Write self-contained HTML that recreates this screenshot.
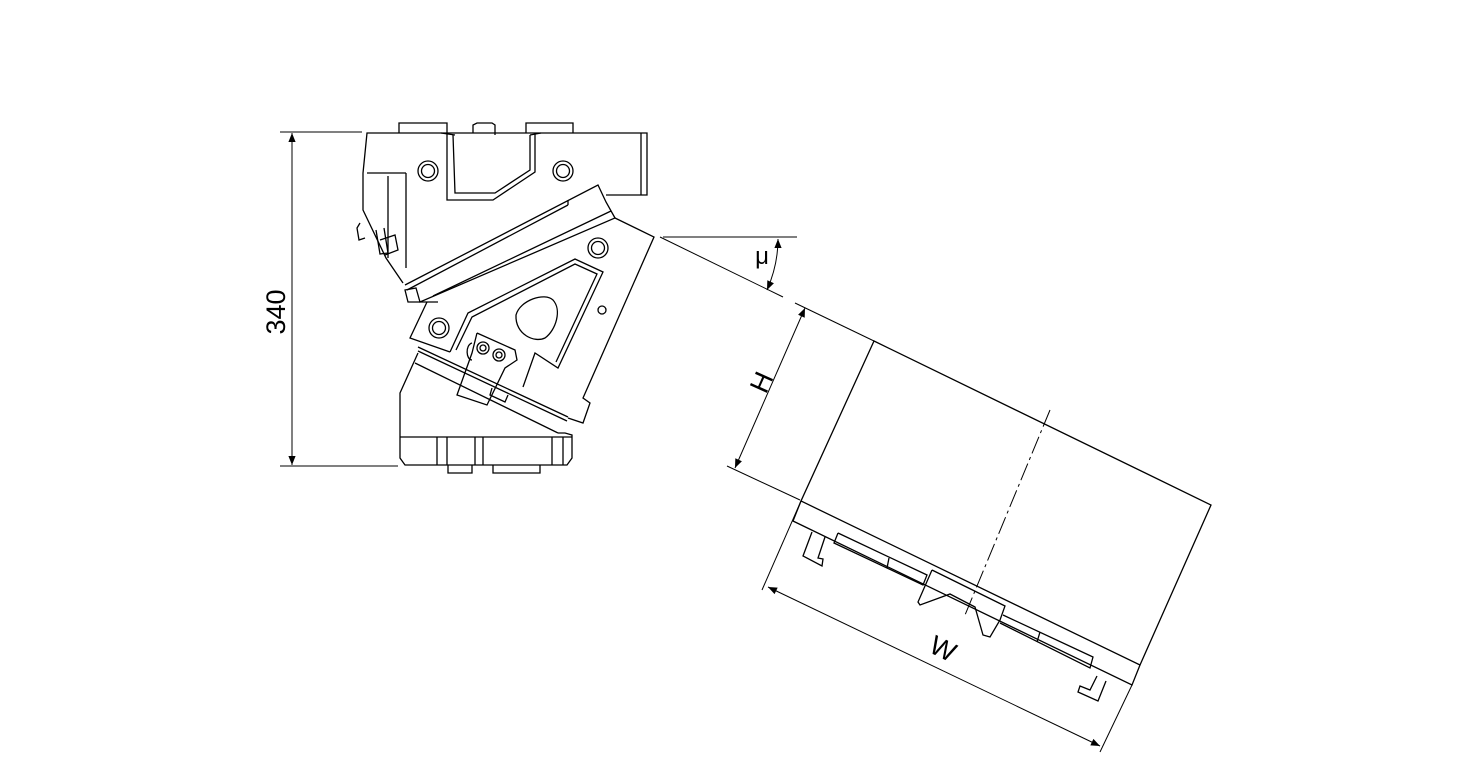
<!DOCTYPE html>
<html><head><style>
html,body{margin:0;padding:0;background:#fff;}
svg{display:block;}
text{font-family:"Liberation Sans",sans-serif;fill:#000;}
</style></head><body>
<svg width="1471" height="772" viewBox="0 0 1471 772" xmlns="http://www.w3.org/2000/svg">
<defs>
<marker id="a" viewBox="0 0 10 10" refX="10" refY="5" markerWidth="18" markerHeight="9" markerUnits="userSpaceOnUse" orient="auto-start-reverse"><path d="M0,1 L10,5 L0,9 z" fill="#000"/></marker>
</defs>
<g fill="none" stroke="#000" stroke-width="1.3" stroke-linejoin="miter">
<line x1="280" y1="132" x2="362" y2="132" stroke-width="1"/>
<line x1="280" y1="466" x2="398" y2="466" stroke-width="1"/>
<line x1="292" y1="133" x2="292" y2="465" stroke-width="1" marker-start="url(#a)" marker-end="url(#a)"/>

<polyline points="399,133 399,123 447,123 447,133"/>
<polyline points="473,133 473,125 477,123 492,123 495,125 495,135"/>
<polyline points="526,133 526,123 573,123 573,133"/>
<polyline points="403,283 386,258 363,210 363,173 367,133 647,133 647,195 606,195"/>
<line x1="641" y1="133" x2="641" y2="195"/>
<line x1="367" y1="173" x2="406" y2="173"/>
<line x1="406" y1="173" x2="406" y2="268"/>
<line x1="388" y1="176" x2="388" y2="258"/>
<polyline points="447,133 447,200 493,200 535,172 535,133"/>
<polyline points="453,135 455,193 495,193 530,170 530,135"/>
<line x1="441" y1="133" x2="455" y2="135"/>
<line x1="541" y1="133" x2="530" y2="135"/>
<circle cx="428" cy="171" r="10"/><circle cx="428" cy="171" r="6.5"/>
<circle cx="563" cy="171" r="10"/><circle cx="563" cy="171" r="6.5"/>
<polyline points="360,223 357,228 359,240 365,238"/>
<polyline points="376,230 380,254 388,253 384,228"/>
<polyline points="380,240 395,235 398,250 385,255"/>
<polyline points="405,285 598,185 606,202 615,218 420,302 416,288 405,290 408,302 420,302"/>
<line x1="568" y1="200" x2="568" y2="205"/>
<line x1="407" y1="290" x2="568" y2="205"/>
<line x1="433" y1="296" x2="611" y2="211"/>
<polyline points="615,218 654,237 583,398 590,403 583,423 568,418"/>
<polyline points="427,302 410,338 450,352"/>
<line x1="420" y1="302" x2="438" y2="302"/>
<circle cx="598" cy="248" r="10"/><circle cx="598" cy="248" r="6.5"/>
<circle cx="439" cy="328" r="10"/><circle cx="439" cy="328" r="6.5"/>
<circle cx="602" cy="310" r="4"/>
<polyline points="450,352 468,313 575,259 603,272 558,368 535,353 523,387"/>
<polyline points="456,350 472,317 575,264 597,274 556,362"/>
<path d="M516,315 C520,300 545,292 553,300 C562,310 556,330 545,338 C535,343 515,335 516,315 z"/>
<polyline points="477,333 515,350 517,360 505,368 487,405 457,395 472,353 477,333"/>
<path d="M472,343 C465,345 466,360 472,360"/>
<circle cx="483" cy="348" r="6"/><circle cx="483" cy="348" r="3"/>
<circle cx="499" cy="355" r="6"/><circle cx="499" cy="355" r="3"/>
<line x1="418" y1="347" x2="568" y2="417"/>
<line x1="418" y1="351" x2="567" y2="421"/>
<line x1="415" y1="363" x2="558" y2="433"/>
<polyline points="492,388 490,395 505,402 508,395"/>
<polyline points="418,353 400,393 400,458 405,465 567,465 572,458 572,435 565,433 558,433"/>
<line x1="400" y1="437" x2="572" y2="437"/>
<line x1="437" y1="437" x2="437" y2="465"/>
<line x1="447" y1="437" x2="447" y2="465"/>
<line x1="475" y1="437" x2="475" y2="465"/>
<line x1="483" y1="437" x2="483" y2="465"/>
<line x1="552" y1="437" x2="552" y2="465"/>
<line x1="563" y1="437" x2="563" y2="465"/>
<polyline points="448,465 448,473 472,473 472,465"/>
<polyline points="493,465 493,473 540,473 540,465"/>

<line x1="663" y1="237" x2="797" y2="237" stroke-width="1"/>
<line x1="660" y1="237" x2="783" y2="297" stroke-width="1"/>
<path d="M778,239 Q778,265 767,290" stroke-width="1" marker-start="url(#a)" marker-end="url(#a)"/>
<line x1="795" y1="303" x2="874" y2="341" stroke-width="1"/>
<line x1="727" y1="466" x2="800" y2="500" stroke-width="1"/>
<line x1="805" y1="308" x2="735" y2="468" stroke-width="1" marker-start="url(#a)" marker-end="url(#a)"/>
<polygon points="874,341 1211,505 1140,665 801,501"/>
<line x1="1050" y1="410" x2="965" y2="615" stroke-width="1" stroke-dasharray="18,4,3,4"/>
<polyline points="801,501 793,521 1132,685 1140,665"/>
<polyline points="812,532 803,556 822,566 823,559 818,558 825,537"/>
<polyline points="838,533 927,575 923,585 834,543 838,533"/>
<line x1="889" y1="558" x2="887" y2="568"/>
<polyline points="932,570 1005,606 1000,620 990,637 983,635 975,607 950,594 920,605 918,602 932,570"/>
<polyline points="1003,615 1093,657 1090,668 1000,623"/>
<line x1="1040" y1="632" x2="1037" y2="642"/>
<polyline points="1097,676 1090,690 1080,686 1078,692 1098,701 1106,681"/>
<line x1="801" y1="501" x2="762" y2="590" stroke-width="1"/>
<line x1="1132" y1="685" x2="1100" y2="752" stroke-width="1"/>
<line x1="768" y1="587" x2="1100" y2="746" stroke-width="1" marker-start="url(#a)" marker-end="url(#a)"/>
</g>
<text x="0" y="0" font-size="27" transform="translate(285,312) rotate(-90)" text-anchor="middle">340</text>
<text x="0" y="0" font-size="24" transform="translate(762,264)" text-anchor="middle">μ</text>
<text x="0" y="0" font-size="27" transform="translate(770,386) rotate(-66)" text-anchor="middle">H</text>
<text x="0" y="0" font-size="27" transform="translate(939,657) rotate(26)" text-anchor="middle">W</text>
</svg>
</body></html>
